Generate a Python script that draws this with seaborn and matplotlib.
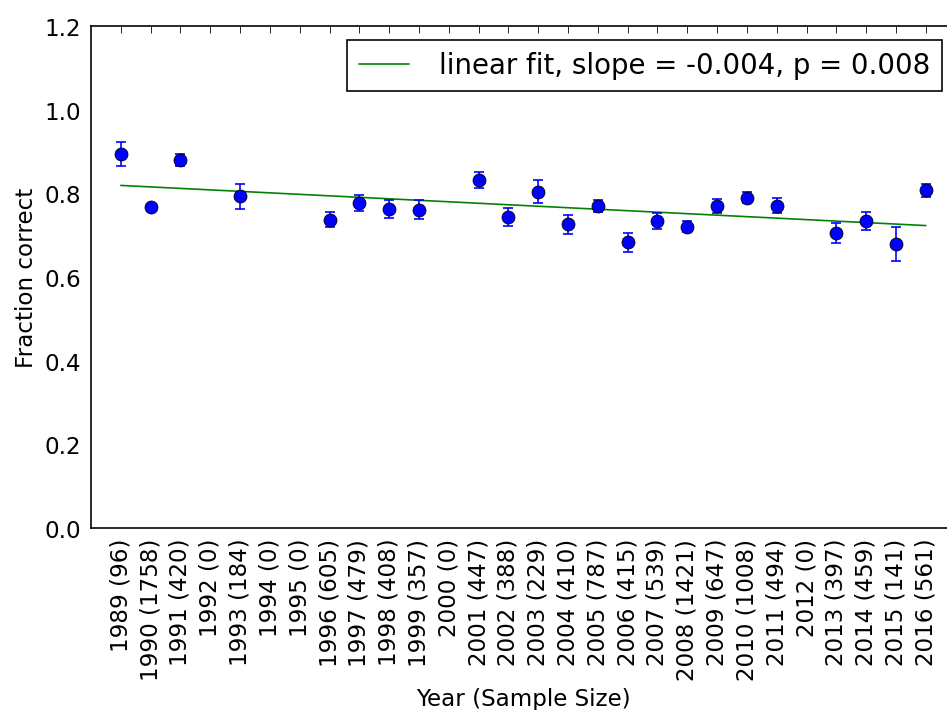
import numpy as np
import pandas as pd
import matplotlib
matplotlib.use("Agg")
import matplotlib.pyplot as plt
import seaborn as sns

# ---- data ----
years = [1989, 1990, 1991, 1992, 1993, 1994, 1995, 1996, 1997, 1998,
         1999, 2000, 2001, 2002, 2003, 2004, 2005, 2006, 2007, 2008,
         2009, 2010, 2011, 2012, 2013, 2014, 2015, 2016]
sample_sizes = [96, 1758, 420, 0, 184, 0, 0, 605, 479, 408,
                357, 0, 447, 388, 229, 410, 787, 415, 539, 1421,
                647, 1008, 494, 0, 397, 459, 141, 561]
fraction_correct = [0.895, 0.767, 0.880, None, 0.793, None, None, 0.737, 0.777, 0.763,
                    0.761, None, 0.833, 0.743, 0.804, 0.726, 0.770, 0.683, 0.734, 0.720,
                    0.770, 0.790, 0.770, None, 0.706, 0.734, 0.679, 0.807]
error = [0.029, 0.008, 0.015, None, 0.030, None, None, 0.018, 0.020, 0.021,
         0.022, None, 0.019, 0.021, 0.027, 0.023, 0.015, 0.023, 0.018, 0.013,
         0.016, 0.013, 0.018, None, 0.024, 0.021, 0.040, 0.016]
fit_years = [1989, 2016]
fit_values = [0.819, 0.723]
fit_label = "linear fit, slope = -0.004, p = 0.008"
y_ticks = [0.0, 0.2, 0.4, 0.6, 0.8, 1.0, 1.2]

df = pd.DataFrame({"year": years, "n": sample_sizes,
                   "frac": pd.to_numeric(pd.Series(fraction_correct), errors="coerce"),
                   "err": pd.to_numeric(pd.Series(error), errors="coerce")})
pts = df.dropna()
fit_df = pd.DataFrame({"year": fit_years, "fit": fit_values})
tick_labels = [f"{y} ({n})" for y, n in zip(years, sample_sizes)]

# ---- style ----
sns.set_theme(style="white")
plt.rcParams.update({
    "font.family": ["DejaVu Sans"],
    "font.size": 14,
    "xtick.direction": "in", "ytick.direction": "in",
    "xtick.top": True, "ytick.right": True,
    "xtick.major.size": 4, "ytick.major.size": 4,
    "xtick.major.width": 0.5, "ytick.major.width": 0.5,
    "xtick.major.pad": 6, "ytick.major.pad": 6,
    "xtick.labelsize": 14, "ytick.labelsize": 14,
    "axes.labelsize": 14,
    "axes.edgecolor": "black", "axes.linewidth": 1.0,
    "xtick.color": "black", "ytick.color": "black",
    "text.color": "black", "axes.labelcolor": "black",
})

fig = plt.figure(figsize=(8.0, 6.006), dpi=118.375)
ax = fig.add_axes([0.0961, 0.2560, 0.9130, 0.7060])

ax.errorbar(pts["year"], pts["frac"], yerr=pts["err"], fmt="none",
            ecolor="#0000ff", elinewidth=1.0, capsize=3, capthick=1.0, zorder=2)
sns.scatterplot(data=pts, x="year", y="frac", ax=ax, color="#0000ff",
                edgecolor="black", linewidth=0.5, s=62, zorder=3, legend=False)
sns.lineplot(data=fit_df, x="year", y="fit", ax=ax, color=(0, 0.5, 0),
             linewidth=1.0, label=fit_label, zorder=1)

ax.set_xlim(1988, 2017)
ax.set_ylim(0, 1.2)
ax.set_yticks(y_ticks)
ax.set_yticklabels([f"{v:.1f}" for v in y_ticks])
ax.set_xticks(years)
ax.set_xticklabels(tick_labels, rotation=90)
ax.set_xlabel("Year (Sample Size)")
ax.set_ylabel("Fraction correct")

leg = ax.legend(loc="upper right", fontsize=16.8, frameon=True, fancybox=False,
                shadow=False, borderpad=0.42, handlelength=1.8, handletextpad=1.1,
                borderaxespad=0.5)
leg.get_frame().set_edgecolor("black")
leg.get_frame().set_linewidth(1.0)
leg.get_frame().set_alpha(1)

fig.savefig("out.png", dpi=118.375)
